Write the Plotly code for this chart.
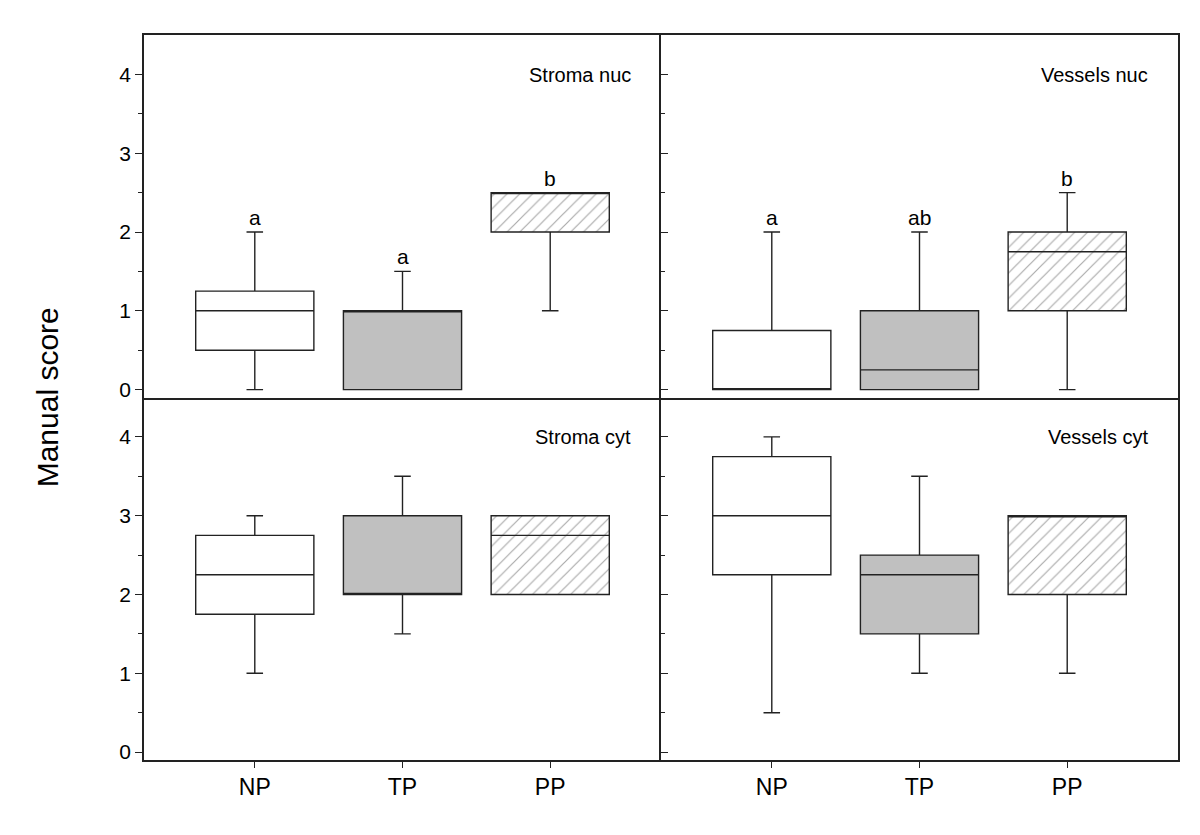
import plotly.graph_objects as go
from plotly.subplots import make_subplots

groups = ["NP", "TP", "PP"]
panel_titles = ["Stroma nuc", "Vessels nuc", "Stroma cyt", "Vessels cyt"]

# Box statistics, ordered NP, TP, PP
stroma_nuc_min = [0, 0, 1]
stroma_nuc_q1 = [0.5, 0, 2]
stroma_nuc_med = [1, 1, 2.5]
stroma_nuc_q3 = [1.25, 1, 2.5]
stroma_nuc_max = [2, 1.5, 2.5]
stroma_nuc_letters = ["a", "a", "b"]

vessels_nuc_min = [0, 0, 0]
vessels_nuc_q1 = [0, 0, 1]
vessels_nuc_med = [0, 0.25, 1.75]
vessels_nuc_q3 = [0.75, 1, 2]
vessels_nuc_max = [2, 2, 2.5]
vessels_nuc_letters = ["a", "ab", "b"]

stroma_cyt_min = [1, 1.5, 2]
stroma_cyt_q1 = [1.75, 2, 2]
stroma_cyt_med = [2.25, 2, 2.75]
stroma_cyt_q3 = [2.75, 3, 3]
stroma_cyt_max = [3, 3.5, 3]
stroma_cyt_letters = ["", "", ""]

vessels_cyt_min = [0.5, 1, 1]
vessels_cyt_q1 = [2.25, 1.5, 2]
vessels_cyt_med = [3, 2.25, 3]
vessels_cyt_q3 = [3.75, 2.5, 3]
vessels_cyt_max = [4, 3.5, 3]
vessels_cyt_letters = ["", "", ""]

panels = [
    (1, 1, stroma_nuc_min, stroma_nuc_q1, stroma_nuc_med, stroma_nuc_q3, stroma_nuc_max, stroma_nuc_letters),
    (1, 2, vessels_nuc_min, vessels_nuc_q1, vessels_nuc_med, vessels_nuc_q3, vessels_nuc_max, vessels_nuc_letters),
    (2, 1, stroma_cyt_min, stroma_cyt_q1, stroma_cyt_med, stroma_cyt_q3, stroma_cyt_max, stroma_cyt_letters),
    (2, 2, vessels_cyt_min, vessels_cyt_q1, vessels_cyt_med, vessels_cyt_q3, vessels_cyt_max, vessels_cyt_letters),
]

FONT = "Liberation Sans, Arial, sans-serif"
LINE = "#222222"
fills = ["white", "#c0c0c0", "rgba(0,0,0,0)"]

fig = make_subplots(rows=2, cols=2, horizontal_spacing=0, vertical_spacing=0)

for idx, (r, c, mn, q1, med, q3, mx, letters) in enumerate(panels):
    # hatched background for PP
    fig.add_trace(go.Bar(
        x=[groups[2]], y=[q3[2] - q1[2]], base=[q1[2]], width=0.8,
        marker=dict(color="white", line=dict(width=0),
                    pattern=dict(shape="/", fgcolor="#555555", bgcolor="white",
                                 size=9, solidity=0.13)),
        showlegend=False, hoverinfo="skip"), row=r, col=c)
    for g in range(3):
        fig.add_trace(go.Box(
            x=[groups[g]], q1=[q1[g]], median=[med[g]], q3=[q3[g]],
            lowerfence=[mn[g]], upperfence=[mx[g]],
            width=0.8, whiskerwidth=0.14, fillcolor=fills[g],
            line=dict(color=LINE, width=1.4), boxpoints=False,
            showlegend=False), row=r, col=c)
        if letters[g]:
            fig.add_annotation(x=groups[g], y=mx[g], text=letters[g], showarrow=False,
                               yanchor="bottom", yshift=1, font=dict(size=21, color="black", family=FONT),
                               row=r, col=c)
    xd = "x domain" if idx == 0 else f"x{idx+1} domain"
    yd = "y domain" if idx == 0 else f"y{idx+1} domain"
    fig.add_annotation(xref=xd, yref=yd, x=0.946, y=0.89, xanchor="right", yanchor="middle",
                       text=panel_titles[idx], showarrow=False,
                       font=dict(size=20, color="black", family=FONT))

for r in (1, 2):
    for c in (1, 2):
        fig.update_xaxes(row=r, col=c, type="category", categoryorder="array", categoryarray=groups,
                         range=[-0.75, 2.75], showline=True, mirror=(r == 1), linecolor=LINE, linewidth=1.6,
                         showgrid=False, zeroline=False,
                         ticks="outside" if r == 2 else "", ticklen=6, tickwidth=1.3, tickcolor=LINE,
                         showticklabels=(r == 2),
                         tickfont=dict(size=23, color="black", family=FONT))
        fig.update_yaxes(row=r, col=c, range=[-0.1, 4.5], showline=True, mirror=(c == 2),
                         linecolor=LINE, linewidth=1.6, showgrid=False, zeroline=False,
                         tickvals=[0, 1, 2, 3, 4],
                         ticks="outside" if c == 1 else "inside", ticklen=7, tickwidth=1.3, tickcolor=LINE,
                         minor=dict(tickvals=[0.5, 1.5, 2.5, 3.5], ticks="outside" if c == 1 else "inside",
                                    ticklen=4, tickwidth=1.3, tickcolor=LINE, showgrid=False),
                         showticklabels=(c == 1),
                         tickfont=dict(size=21, color="black", family=FONT))

fig.add_annotation(xref="paper", yref="paper", x=-0.093, y=0.5, text="Manual score", textangle=-90,
                   showarrow=False, xanchor="center", yanchor="middle",
                   font=dict(size=30, color="black", family=FONT))

fig.update_layout(width=1200, height=835, margin=dict(l=136, r=30, t=27, b=83),
                  paper_bgcolor="white", plot_bgcolor="white",
                  barmode="overlay", boxmode="overlay", showlegend=False,
                  font=dict(family=FONT, color="black"))

fig.write_html("out.html")
